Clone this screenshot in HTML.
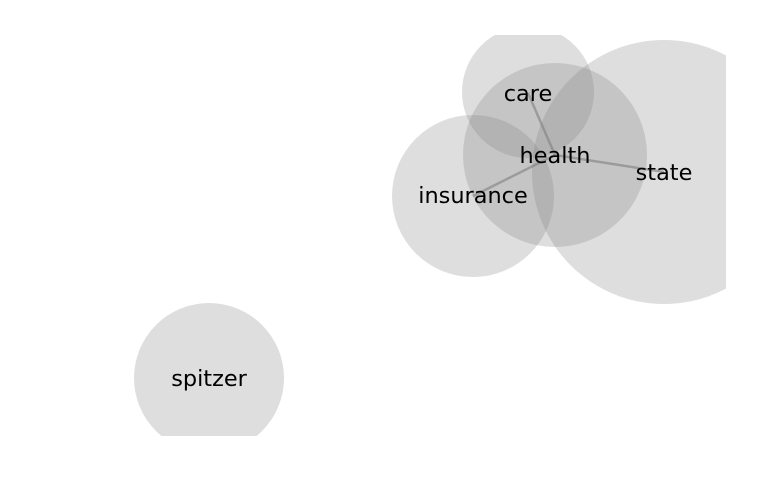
<!DOCTYPE html>
<html><head><style>html,body{margin:0;padding:0;background:#fff;overflow:hidden}svg{display:block}</style></head>
<body>
<svg width="769" height="500" xmlns="http://www.w3.org/2000/svg">
<defs><clipPath id="c"><rect x="0" y="35" width="726" height="401"/></clipPath></defs>
<g clip-path="url(#c)">
<g stroke="#808080" stroke-opacity="0.6" stroke-width="2.5">
<line x1="555" y1="155" x2="528" y2="93"/>
<line x1="555" y1="155" x2="664" y2="172"/>
<line x1="555" y1="155" x2="473" y2="196"/>
</g>
<g fill="#808080" fill-opacity="0.26">
<circle cx="528" cy="92" r="66"/>
<circle cx="555" cy="155" r="92"/>
<circle cx="664" cy="172" r="132"/>
<circle cx="473" cy="196" r="81"/>
<circle cx="209" cy="378" r="75"/>
</g>
</g>
<g font-family="DejaVu Sans, sans-serif" font-size="22.4" text-anchor="middle" fill="#000">
<text x="528" y="101">care</text>
<text x="555" y="163">health</text>
<text x="664" y="180">state</text>
<text x="473" y="203">insurance</text>
<text x="209" y="386">spitzer</text>
</g>
</svg>
</body></html>
